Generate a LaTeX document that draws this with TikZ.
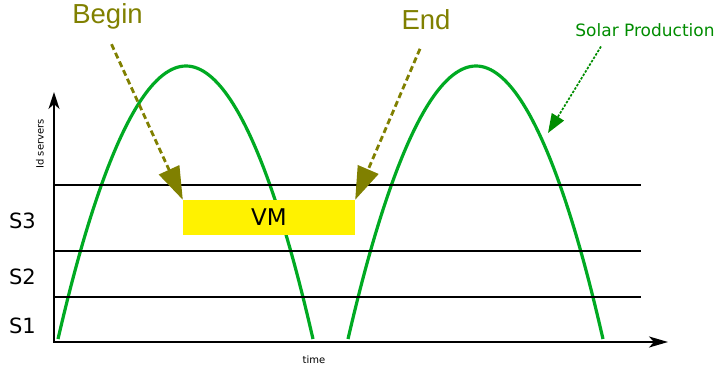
\documentclass[tikz,border=0pt]{standalone}
\usepackage{fontspec}
\setmainfont{DejaVu Sans}
\newfontfamily\tagfont{Liberation Sans}
\usetikzlibrary{arrows.meta,positioning}
\definecolor{sungreen}{HTML}{00AA22}
\definecolor{tagolive}{HTML}{808000}
\definecolor{notegreen}{HTML}{008C00}

\begin{document}
\begin{tikzpicture}[x=1pt,y=-1pt,
    axis/.style={line width=2pt,{Stealth[length=17pt,width=11pt,inset=5pt]}-{Stealth[length=19pt,width=11pt,inset=5pt]}},
    slot/.style={line width=1.9pt},
    sun/.style={draw=sungreen,line width=3.2pt},
    tag/.style={text=tagolive,anchor=base,font=\tagfont\fontsize{27.5}{32}\selectfont},
    pointer/.style={draw=tagolive,line width=2.8pt,dash pattern=on 6pt off 3.5pt,-{Triangle[length=33pt,width=22pt]}},
    note/.style={text=notegreen,anchor=base,font=\fontsize{17}{20}\selectfont},
    notepointer/.style={draw=notegreen,line width=1.7pt,dash pattern=on 2.5pt off 1.5pt,-{Triangle[length=19pt,width=14pt]}},
    server/.style={anchor=base,font=\fontsize{21}{25}\selectfont},
    small/.style={font=\fontsize{10}{12}\selectfont}
  ]
  \useasboundingbox (0,0) rectangle (717,369);
  % solar production, two days
  \draw[sun] (58,339) parabola bend (186,66) (313,339);
  \draw[sun] (348,339) parabola bend (476,66) (603,339);
  % server slots
  \foreach \y in {185,251,297}
    \draw[slot] (54,\y) -- (641,\y);
  % axes
  \coordinate (o) at (54,342);
  \coordinate (ytop) at (54,92);
  \coordinate (xend) at (668,342);
  \draw[axis] (ytop) -- (o) -- (xend);
  \node[small,rotate=90] (ylabel) at (40,144) {Id servers};
  \node[small] (xlabel) at (314,360) {time};
  \node[server] (s3) at (22.5,228.3) {S3};
  \node[server] (s2) at (22.5,284) {S2};
  \node[server] (s1) at (22.5,333.3) {S1};
  % the VM
  \node[fill=yellow,minimum width=172pt,minimum height=35pt,inner sep=0pt,
    font=\fontsize{23}{28}\selectfont] (vm) at (269,217.5) {VM};
  % begin / end markers
  \node[tag] (begin) at (107.5,24) {Begin};
  \node[tag] (end) at (426,30) {End};
  \draw[pointer] ([xshift=4pt,yshift=-11pt]begin.south) -- (vm.north west);
  \draw[pointer] ([xshift=-6pt,yshift=-15pt]end.south) -- (vm.north east);
  % solar label
  \node[note] (solar) at (645,36.7) {Solar Production};
  \coordinate (sunhit) at (548,133);
  \draw[notepointer] ([xshift=-44pt,yshift=-6pt]solar.south) -- (sunhit);
\end{tikzpicture}
\end{document}
